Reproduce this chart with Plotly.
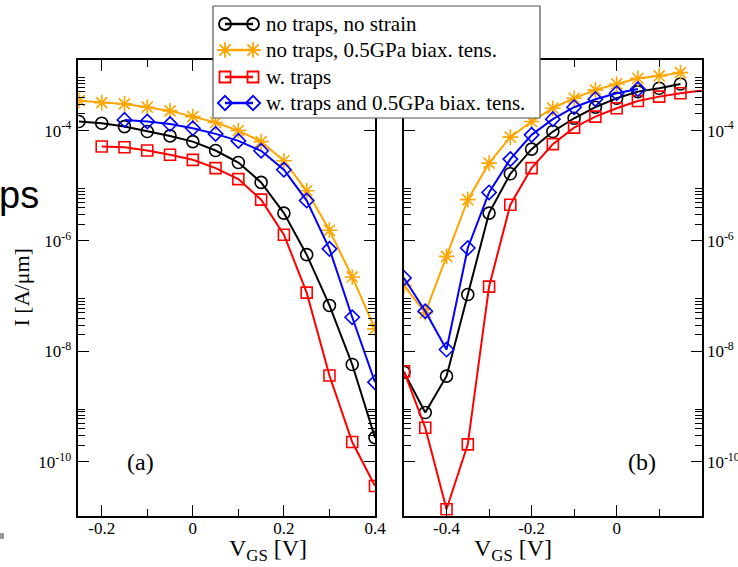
import plotly.graph_objects as go

# ---------------- data ----------------
names = ["no traps, no strain", "no traps, 0.5GPa biax. tens.",
         "w. traps", "w. traps and 0.5GPa biax. tens."]
colors = ["#000000", "#FFA500", "#FF0000", "#0000FF"]
symbols = ["circle-open", "asterisk-open", "square-open", "diamond-open"]

# panel (a)
xa_black = [-0.25, -0.2, -0.15, -0.1, -0.05, 0.0, 0.05, 0.1, 0.15, 0.2, 0.25, 0.3, 0.35, 0.4]
ia_black = [1.46e-4, 1.36e-4, 1.18e-4, 9.6e-5, 8.0e-5, 6.3e-5, 4.35e-5, 2.64e-5, 1.15e-5,
            3.2e-6, 5.65e-7, 6.8e-8, 5.8e-9, 2.74e-10]
xa_orange = [-0.25, -0.2, -0.15, -0.1, -0.05, 0.0, 0.05, 0.1, 0.15, 0.2, 0.25, 0.3, 0.35, 0.4]
ia_orange = [3.48e-4, 3.21e-4, 3.04e-4, 2.65e-4, 2.27e-4, 1.79e-4, 1.40e-4, 1.0e-4, 6.3e-5,
             2.83e-5, 8.1e-6, 1.56e-6, 2.23e-7, 2.56e-8]
xa_red = [-0.2, -0.15, -0.1, -0.05, 0.0, 0.05, 0.1, 0.15, 0.2, 0.25, 0.3, 0.35, 0.4]
ia_red = [5.14e-5, 5.0e-5, 4.35e-5, 3.64e-5, 2.95e-5, 2.09e-5, 1.32e-5, 5.6e-6, 1.30e-6,
          1.16e-7, 3.66e-9, 2.28e-10, 3.65e-11]
xa_blue = [-0.15, -0.1, -0.05, 0.0, 0.05, 0.1, 0.15, 0.2, 0.25, 0.3, 0.35, 0.4]
ia_blue = [1.56e-4, 1.46e-4, 1.31e-4, 1.10e-4, 8.7e-5, 6.5e-5, 4.3e-5, 1.95e-5, 5.4e-6,
           7.2e-7, 4.15e-8, 2.77e-9]

# panel (b)
xb_black = [-0.5, -0.45, -0.4, -0.35, -0.3, -0.25, -0.2, -0.15, -0.1, -0.05, 0.0, 0.05, 0.1, 0.15]
ib_black = [4.2e-9, 7.8e-10, 3.56e-9, 1.07e-7, 3.2e-6, 1.65e-5, 4.61e-5, 9.6e-5, 1.67e-4,
            2.65e-4, 3.85e-4, 5.07e-4, 5.85e-4, 6.98e-4]
xb_orange = [-0.5, -0.45, -0.4, -0.35, -0.3, -0.25, -0.2, -0.15, -0.1, -0.05, 0.0, 0.05, 0.1, 0.15]
ib_orange = [1.56e-7, 5.0e-8, 5.27e-7, 5.6e-6, 2.57e-5, 7.6e-5, 1.46e-4, 2.54e-4, 3.85e-4,
             5.45e-4, 6.98e-4, 8.85e-4, 9.75e-4, 1.12e-3]
xb_red = [-0.5, -0.45, -0.4, -0.35, -0.3, -0.25, -0.2, -0.15, -0.1, -0.05, 0.0, 0.05, 0.1, 0.15, 0.25]
ib_red = [4.34e-9, 4.15e-10, 1.38e-11, 2.07e-10, 1.49e-7, 4.53e-6, 2.09e-5, 5.68e-5, 1.13e-4,
          1.79e-4, 2.54e-4, 3.44e-4, 4.12e-4, 4.74e-4, 5.9e-4]
xb_blue = [-0.5, -0.45, -0.4, -0.35, -0.3, -0.25, -0.2, -0.15, -0.1, -0.05, 0.0, 0.05]
ib_blue = [2.14e-7, 5.33e-8, 1.08e-8, 7.46e-7, 7.57e-6, 3.04e-5, 8.36e-5, 1.61e-4, 2.65e-4,
           3.70e-4, 4.74e-4, 5.64e-4]

ytick_vals = [1e-10, 1e-8, 1e-6, 1e-4]
ytick_text = ["10<sup>-10</sup>", "10<sup>-8</sup>", "10<sup>-6</sup>", "10<sup>-4</sup>"]
xa_ticks = [-0.2, 0.0, 0.2, 0.4]
xa_text = ["-0.2", "0", "0.2", "0.4"]
xa_minor = [-0.1, 0.1, 0.3]
xb_ticks = [-0.4, -0.2, 0.0]
xb_text = ["-0.4", "-0.2", "0"]
xb_minor = [-0.3, -0.1, 0.1]
y_minor = [k * 10.0 ** n for n in (-12, -10, -8, -6, -4) for k in range(2, 10)]

# ---------------- figure ----------------
W, H = 738, 567
SERIF = "Liberation Serif"
fig = go.Figure()

sizes = [12, 13, 11, 11]
panel_a = [(xa_black, ia_black), (xa_orange, ia_orange), (xa_red, ia_red), (xa_blue, ia_blue)]
panel_b = [(xb_black, ib_black), (xb_orange, ib_orange), (xb_red, ib_red), (xb_blue, ib_blue)]

for i in range(4):
    for p, (xs, ys) in enumerate([panel_a[i], panel_b[i]]):
        fig.add_trace(go.Scatter(
            x=xs, y=ys, mode="lines+markers", name=names[i], showlegend=False,
            xaxis="x" if p == 0 else "x2", yaxis="y" if p == 0 else "y2",
            line=dict(color=colors[i], width=2),
            marker=dict(symbol=symbols[i], size=sizes[i], color=colors[i],
                        line=dict(color=colors[i], width=1.6)),
        ))

# empty traces so the minor-tick overlay axes get drawn
fig.add_trace(go.Scatter(x=[], y=[], xaxis="x3", yaxis="y3", showlegend=False))
fig.add_trace(go.Scatter(x=[], y=[], xaxis="x4", yaxis="y4", showlegend=False))

# ---- hand-drawn legend on a full-figure pixel overlay (x6/y6, drawn last) ----
LX0, LX1, LY0, LY1 = 213, 540, 6, 118
row_y = [24, 50, 77, 103]
fig.add_trace(go.Scatter(
    x=[LX0, LX1, LX1, LX0, LX0], y=[LY0, LY0, LY1, LY1, LY0], mode="lines",
    fill="toself", fillcolor="white", line=dict(color="#555555", width=1.2),
    xaxis="x6", yaxis="y6", showlegend=False, hoverinfo="skip"))
for i in range(4):
    fig.add_trace(go.Scatter(
        x=[225, 253], y=[row_y[i], row_y[i]], mode="lines+markers",
        xaxis="x6", yaxis="y6", showlegend=False, hoverinfo="skip",
        line=dict(color=colors[i], width=2.5),
        marker=dict(symbol=symbols[i], size=sizes[i], color=colors[i],
                    line=dict(color=colors[i], width=1.8))))
    fig.add_annotation(text=names[i], x=264, y=row_y[i], xref="x6", yref="y6",
                       xanchor="left", yanchor="middle", showarrow=False,
                       font=dict(family=SERIF, size=21, color="black"))

tickfont = dict(family=SERIF, size=17, color="black")
major = dict(showline=True, linecolor="black", linewidth=1.6, mirror="ticks",
             ticks="inside", ticklen=11, tickwidth=1.3, tickcolor="black",
             showgrid=False, zeroline=False, tickfont=tickfont, tickmode="array")
minor = dict(showline=False, mirror="ticks", ticks="inside", ticklen=7, tickwidth=1.1,
             tickcolor="black", showgrid=False, zeroline=False, showticklabels=False,
             tickmode="array")

ydom = [51.3 / H, 507 / H]
xdom_a = [78.3 / W, 375 / W]
xdom_b = [404 / W, 701.7 / W]
xr_a = [-0.2514, 0.4]
xr_b = [-0.5, 0.2]
yr = [-10.976, -2.722]

fig.update_layout(
    width=W, height=H, margin=dict(l=0, r=0, t=0, b=0, autoexpand=False),
    paper_bgcolor="white", plot_bgcolor="rgba(0,0,0,0)",
    font=dict(family=SERIF, color="black", size=17),
    showlegend=False,
    xaxis=dict(domain=xdom_a, range=xr_a, anchor="y", ticklabelstandoff=-4,
               tickvals=xa_ticks, ticktext=xa_text, **major),
    yaxis=dict(domain=ydom, type="log", range=yr, anchor="x", ticklabelstandoff=2,
               tickvals=ytick_vals, ticktext=ytick_text, **major),
    xaxis2=dict(domain=xdom_b, range=xr_b, anchor="y2", ticklabelstandoff=-4,
                tickvals=xb_ticks, ticktext=xb_text, **major),
    yaxis2=dict(domain=ydom, type="log", range=yr, anchor="x2", side="right",
                tickvals=ytick_vals, ticktext=ytick_text, **major),
    # minor tick overlays
    xaxis3=dict(domain=xdom_a, range=xr_a, anchor="y3", tickvals=xa_minor, **minor),
    yaxis3=dict(domain=ydom, type="log", range=yr, anchor="x3", tickvals=y_minor, **minor),
    xaxis4=dict(domain=xdom_b, range=xr_b, anchor="y4", tickvals=xb_minor, **minor),
    yaxis4=dict(domain=ydom, type="log", range=yr, anchor="x4", side="right",
                tickvals=y_minor, **minor),
    xaxis6=dict(domain=[0, 1], range=[0, W], anchor="y6", visible=False, fixedrange=True),
    yaxis6=dict(domain=[0, 1], range=[H, 0], anchor="x6", visible=False, fixedrange=True),
)

def px_ann(text, x, y, size, **kw):
    fig.add_annotation(text=text, x=x / W, y=1 - y / H, xref="paper", yref="paper",
                       showarrow=False, font=dict(family=kw.pop("family", SERIF), size=size,
                                                  color=kw.pop("color", "black")), **kw)

px_ann("(a)", 125, 477, 24)
px_ann("(b)", 658, 477, 24)
px_ann("V<sub>GS</sub> [V]", 227, 567, 24)
px_ann("V<sub>GS</sub> [V]", 554, 567, 24)
px_ann("I [A/μm]", 6, 288, 22, textangle=-90, xanchor="left")
px_ann("ps", 41, 172, 38, family="Liberation Sans", xanchor="right")

fig.add_shape(type="rect", xref="paper", yref="paper",
              x0=0, x1=4 / W, y0=1 - 539 / H, y1=1 - 533 / H,
              fillcolor="#999999", line=dict(width=0))

fig.write_html("out.html")
